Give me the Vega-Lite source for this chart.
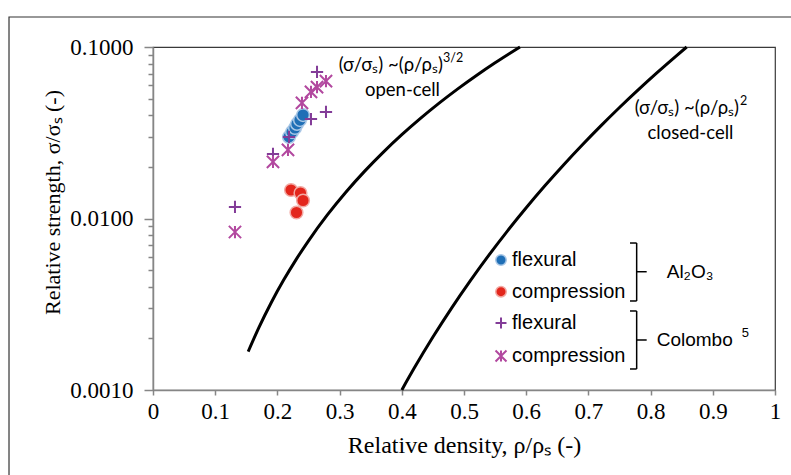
{
  "$schema": "https://vega.github.io/schema/vega-lite/v6.json",
  "width": 622,
  "height": 343,
  "autosize": {"type": "none"},
  "padding": {"left": 153, "top": 47, "right": 16, "bottom": 85},
  "background": "white",
  "config": {"view": {"stroke": "#3a3a3a", "strokeWidth": 1.2}},
  "datasets": {
    "curves": [
      {"curve": "open", "x": 0.153, "y": 0.001674},
      {"curve": "open", "x": 0.17, "y": 0.002303},
      {"curve": "open", "x": 0.19, "y": 0.003228},
      {"curve": "open", "x": 0.21, "y": 0.004372},
      {"curve": "open", "x": 0.23, "y": 0.00576},
      {"curve": "open", "x": 0.25, "y": 0.007415},
      {"curve": "open", "x": 0.28, "y": 0.010454},
      {"curve": "open", "x": 0.31, "y": 0.014226},
      {"curve": "open", "x": 0.34, "y": 0.018823},
      {"curve": "open", "x": 0.37, "y": 0.024313},
      {"curve": "open", "x": 0.40, "y": 0.030798},
      {"curve": "open", "x": 0.43, "y": 0.038339},
      {"curve": "open", "x": 0.46, "y": 0.047042},
      {"curve": "open", "x": 0.49, "y": 0.056968},
      {"curve": "open", "x": 0.52, "y": 0.068201},
      {"curve": "open", "x": 0.55, "y": 0.080842},
      {"curve": "open", "x": 0.59, "y": 0.1},
      {"curve": "closed", "x": 0.40, "y": 0.001},
      {"curve": "closed", "x": 0.42, "y": 0.001342},
      {"curve": "closed", "x": 0.45, "y": 0.002035},
      {"curve": "closed", "x": 0.48, "y": 0.003005},
      {"curve": "closed", "x": 0.51, "y": 0.00433},
      {"curve": "closed", "x": 0.54, "y": 0.006115},
      {"curve": "closed", "x": 0.57, "y": 0.008476},
      {"curve": "closed", "x": 0.60, "y": 0.011548},
      {"curve": "closed", "x": 0.63, "y": 0.015504},
      {"curve": "closed", "x": 0.66, "y": 0.02053},
      {"curve": "closed", "x": 0.69, "y": 0.026843},
      {"curve": "closed", "x": 0.72, "y": 0.034699},
      {"curve": "closed", "x": 0.75, "y": 0.044402},
      {"curve": "closed", "x": 0.78, "y": 0.056234},
      {"curve": "closed", "x": 0.81, "y": 0.070632},
      {"curve": "closed", "x": 0.84, "y": 0.087938},
      {"curve": "closed", "x": 0.858, "y": 0.1}
    ],
    "al2o3": [
      {"x": 0.2186, "y": 0.0299, "test": "flexural"},
      {"x": 0.2235, "y": 0.0319, "test": "flexural"},
      {"x": 0.2283, "y": 0.0337, "test": "flexural"},
      {"x": 0.2315, "y": 0.0356, "test": "flexural"},
      {"x": 0.2363, "y": 0.0375, "test": "flexural"},
      {"x": 0.2412, "y": 0.0401, "test": "flexural"},
      {"x": 0.2219, "y": 0.01466, "test": "compression"},
      {"x": 0.2371, "y": 0.01408, "test": "compression"},
      {"x": 0.2412, "y": 0.01274, "test": "compression"},
      {"x": 0.2307, "y": 0.01084, "test": "compression"}
    ],
    "colombo": [
      {"x": 0.2637, "y": 0.0715, "test": "flexural"},
      {"x": 0.2781, "y": 0.0418, "test": "flexural"},
      {"x": 0.2540, "y": 0.0380, "test": "flexural"},
      {"x": 0.2186, "y": 0.0299, "test": "flexural"},
      {"x": 0.1929, "y": 0.0238, "test": "flexural"},
      {"x": 0.1318, "y": 0.01167, "test": "flexural"},
      {"x": 0.2781, "y": 0.0633, "test": "compression"},
      {"x": 0.2637, "y": 0.0584, "test": "compression"},
      {"x": 0.2540, "y": 0.0547, "test": "compression"},
      {"x": 0.2395, "y": 0.0472, "test": "compression"},
      {"x": 0.2170, "y": 0.0251, "test": "compression"},
      {"x": 0.1929, "y": 0.0214, "test": "compression"},
      {"x": 0.1318, "y": 0.00834, "test": "compression"}
    ],
    "legendItems": [
      {"x": 0.5595, "y": 0.005728, "tx": 0.5772, "group": "Al2O3", "test": "flexural"},
      {"x": 0.5595, "y": 0.003743, "tx": 0.5772, "group": "Al2O3", "test": "compression"},
      {"x": 0.5595, "y": 0.002459, "tx": 0.5772, "group": "Colombo", "test": "flexural"},
      {"x": 0.5595, "y": 0.001579, "tx": 0.5772, "group": "Colombo", "test": "compression"}
    ],
    "brackets": [
      {"x": 0.7776, "x2": 0.7776, "y": 0.007195, "y2": 0.003304},
      {"x": 0.7669, "x2": 0.7776, "y": 0.007195, "y2": 0.007195},
      {"x": 0.7669, "x2": 0.7776, "y": 0.003304, "y2": 0.003304},
      {"x": 0.7776, "x2": 0.7937, "y": 0.004894, "y2": 0.004894},
      {"x": 0.7776, "x2": 0.7776, "y": 0.002889, "y2": 0.001326},
      {"x": 0.7669, "x2": 0.7776, "y": 0.002889, "y2": 0.002889},
      {"x": 0.7669, "x2": 0.7776, "y": 0.001326, "y2": 0.001326},
      {"x": 0.7776, "x2": 0.7937, "y": 0.001957, "y2": 0.001957}
    ],
    "formulas": [
      {"x": 0.4662, "y": 0.0785, "label": "(σ/σₛ) ~(ρ/ρₛ)"},
      {"x": 0.9421, "y": 0.0441, "label": "(σ/σₛ) ~(ρ/ρₛ)"}
    ],
    "formulaSup": [
      {"x": 0.4662, "y": 0.0863, "label": "3/2"},
      {"x": 0.9437, "y": 0.0484, "label": "2"}
    ],
    "cellLabels": [
      {"x": 0.4011, "y": 0.0561, "label": "open-cell"},
      {"x": 0.8641, "y": 0.0315, "label": "closed-cell"}
    ],
    "groupLabels": [
      {"x": 0.8259, "y": 0.004894, "label": "Al₂O₃"},
      {"x": 0.8098, "y": 0.001957, "label": "Colombo"}
    ],
    "groupSup": [
      {"x": 0.9467, "y": 0.00215, "label": "5"}
    ]
  },
  "layer": [
    {
      "data": {"values": [{}]},
      "mark": {"type": "rect", "fill": null, "stroke": "#333333", "strokeWidth": 1.2},
      "encoding": {
        "x": {"datum": -0.2315, "type": "quantitative"},
        "x2": {"datum": 1.06},
        "y": {"datum": 0.000299, "type": "quantitative"},
        "y2": {"datum": 0.1496}
      }
    },
    {
      "data": {"name": "curves"},
      "mark": {"type": "line", "color": "#000000", "strokeWidth": 3, "interpolate": "monotone", "strokeCap": "butt"},
      "encoding": {
        "x": {
          "field": "x", "type": "quantitative",
          "scale": {"domain": [0, 1], "nice": false, "zero": false},
          "axis": {
            "values": [0, 0.05, 0.1, 0.15, 0.2, 0.25, 0.3, 0.35, 0.4, 0.45, 0.5, 0.55, 0.6, 0.65, 0.7, 0.75, 0.8, 0.85, 0.9, 0.95, 1],
            "labelExpr": "round(datum.value*20) % 2 == 0 ? format(datum.value, '~g') : ''",
            "title": "Relative density, ρ/ρₛ (-)",
            "grid": false,
            "tickSize": 5, "tickColor": "#868686", "tickWidth": 1.5,
            "domainColor": "#868686", "domainWidth": 1.5,
            "labelFont": "Liberation Serif", "labelFontSize": 23, "labelColor": "#000000",
            "labelPadding": 5, "labelFlush": false, "labelOverlap": false,
            "titleFont": "Liberation Serif", "titleFontSize": 24, "titleFontWeight": "normal", "titleColor": "#000000",
            "titlePadding": 10
          }
        },
        "y": {
          "field": "y", "type": "quantitative",
          "scale": {"type": "log", "domain": [0.001, 0.1], "nice": false},
          "axis": {
            "values": [0.001, 0.002, 0.003, 0.004, 0.005, 0.006, 0.007, 0.008, 0.009, 0.01, 0.02, 0.03, 0.04, 0.05, 0.06, 0.07, 0.08, 0.09, 0.1],
            "labelExpr": "(datum.value == 0.001 || datum.value == 0.01 || datum.value == 0.1) ? format(datum.value, '.4f') : ''",
            "tickSize": {"condition": {"test": "datum.value == 0.001 || datum.value == 0.01 || datum.value == 0.1", "value": 9}, "value": 5},
            "title": "Relative strength, σ/σₛ (-)",
            "grid": false,
            "tickColor": "#868686", "tickWidth": 1.5,
            "domainColor": "#868686", "domainWidth": 1.5,
            "labelFont": "Liberation Serif", "labelFontSize": 23, "labelColor": "#000000",
            "labelPadding": 11, "labelOverlap": false, "labelFlush": false,
            "titleFont": "Liberation Serif", "titleFontSize": 22, "titleFontWeight": "normal", "titleColor": "#000000",
            "titleX": -101, "titleY": 155, "titleBaseline": "middle", "titleAlign": "center", "titleAngle": 270
          }
        },
        "detail": {"field": "curve"}
      }
    },
    {
      "data": {"name": "al2o3"},
      "mark": {"type": "point", "shape": "circle", "filled": true, "size": 160, "strokeWidth": 1.5, "opacity": 1},
      "encoding": {
        "x": {"field": "x", "type": "quantitative"},
        "y": {"field": "y", "type": "quantitative"},
        "fill": {"field": "test", "type": "nominal", "scale": {"domain": ["flexural", "compression"], "range": ["#1f6fb6", "#e3261c"]}, "legend": null},
        "stroke": {"field": "test", "type": "nominal", "scale": {"domain": ["flexural", "compression"], "range": ["#a9c7e6", "#f2a9a3"]}, "legend": null}
      }
    },
    {
      "data": {"name": "colombo"},
      "transform": [{"filter": "datum.test == 'flexural'"}],
      "mark": {"type": "point", "shape": "M-1,0H1M0,-1V1", "filled": false, "size": 150, "stroke": "#833c98", "strokeWidth": 2, "opacity": 1},
      "encoding": {
        "x": {"field": "x", "type": "quantitative"},
        "y": {"field": "y", "type": "quantitative"}
      }
    },
    {
      "data": {"name": "colombo"},
      "transform": [{"filter": "datum.test == 'compression'"}],
      "mark": {"type": "point", "shape": "M-1,-1L1,1M-1,1L1,-1M0,-1V1", "filled": false, "size": 150, "stroke": "#b2489f", "strokeWidth": 2, "opacity": 1},
      "encoding": {
        "x": {"field": "x", "type": "quantitative"},
        "y": {"field": "y", "type": "quantitative"}
      }
    },
    {
      "data": {"name": "legendItems"},
      "transform": [{"filter": "datum.group == 'Al2O3'"}],
      "mark": {"type": "point", "shape": "circle", "filled": true, "size": 110, "strokeWidth": 1.5, "opacity": 1},
      "encoding": {
        "x": {"field": "x", "type": "quantitative"},
        "y": {"field": "y", "type": "quantitative"},
        "fill": {"field": "test", "type": "nominal", "legend": null},
        "stroke": {"field": "test", "type": "nominal", "legend": null}
      }
    },
    {
      "data": {"name": "legendItems"},
      "transform": [{"filter": "datum.group == 'Colombo' && datum.test == 'flexural'"}],
      "mark": {"type": "point", "shape": "M-1,0H1M0,-1V1", "filled": false, "size": 120, "stroke": "#833c98", "strokeWidth": 2, "opacity": 1},
      "encoding": {
        "x": {"field": "x", "type": "quantitative"},
        "y": {"field": "y", "type": "quantitative"}
      }
    },
    {
      "data": {"name": "legendItems"},
      "transform": [{"filter": "datum.group == 'Colombo' && datum.test == 'compression'"}],
      "mark": {"type": "point", "shape": "M-1,-1L1,1M-1,1L1,-1M0,-1V1", "filled": false, "size": 120, "stroke": "#b2489f", "strokeWidth": 2, "opacity": 1},
      "encoding": {
        "x": {"field": "x", "type": "quantitative"},
        "y": {"field": "y", "type": "quantitative"}
      }
    },
    {
      "data": {"name": "legendItems"},
      "mark": {"type": "text", "align": "left", "baseline": "middle", "font": "Liberation Sans", "fontSize": 20, "color": "#000000"},
      "encoding": {
        "x": {"field": "tx", "type": "quantitative"},
        "y": {"field": "y", "type": "quantitative"},
        "text": {"field": "test"}
      }
    },
    {
      "data": {"name": "brackets"},
      "mark": {"type": "rule", "color": "#000000", "strokeWidth": 1.5},
      "encoding": {
        "x": {"field": "x", "type": "quantitative"},
        "x2": {"field": "x2"},
        "y": {"field": "y", "type": "quantitative"},
        "y2": {"field": "y2"}
      }
    },
    {
      "data": {"name": "groupLabels"},
      "mark": {"type": "text", "align": "left", "baseline": "middle", "font": "Liberation Sans", "fontSize": 19, "color": "#000000"},
      "encoding": {
        "x": {"field": "x", "type": "quantitative"},
        "y": {"field": "y", "type": "quantitative"},
        "text": {"field": "label"}
      }
    },
    {
      "data": {"name": "groupSup"},
      "mark": {"type": "text", "align": "left", "baseline": "middle", "font": "Liberation Sans", "fontSize": 13, "color": "#000000"},
      "encoding": {
        "x": {"field": "x", "type": "quantitative"},
        "y": {"field": "y", "type": "quantitative"},
        "text": {"field": "label"}
      }
    },
    {
      "data": {"name": "formulas"},
      "mark": {"type": "text", "align": "right", "baseline": "middle", "font": "Lato", "fontSize": 18.5, "color": "#000000"},
      "encoding": {
        "x": {"field": "x", "type": "quantitative"},
        "y": {"field": "y", "type": "quantitative"},
        "text": {"field": "label"}
      }
    },
    {
      "data": {"name": "formulaSup"},
      "mark": {"type": "text", "align": "left", "baseline": "middle", "font": "Lato", "fontSize": 12.5, "color": "#000000"},
      "encoding": {
        "x": {"field": "x", "type": "quantitative"},
        "y": {"field": "y", "type": "quantitative"},
        "text": {"field": "label"}
      }
    },
    {
      "data": {"name": "cellLabels"},
      "mark": {"type": "text", "align": "center", "baseline": "middle", "font": "Lato", "fontSize": 18.5, "color": "#000000"},
      "encoding": {
        "x": {"field": "x", "type": "quantitative"},
        "y": {"field": "y", "type": "quantitative"},
        "text": {"field": "label"}
      }
    }
  ]
}
